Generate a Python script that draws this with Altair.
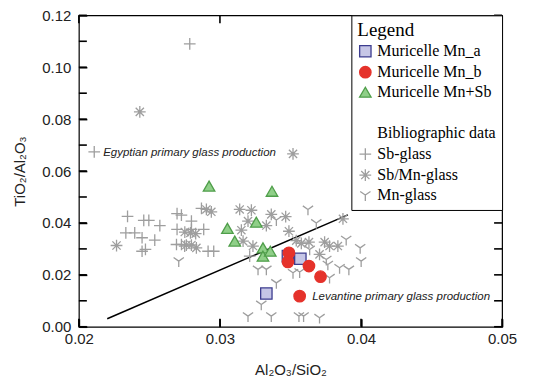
import altair as alt
import pandas as pd

# ---------------- data ----------------
sb_x = [0.02786, 0.02109, 0.02345, 0.02333, 0.02396, 0.02448, 0.02460, 0.02496, 0.02574,
        0.02538, 0.02448, 0.02472, 0.02696, 0.02727, 0.02696, 0.02692, 0.02727, 0.02798,
        0.02798, 0.02885, 0.02869, 0.02916, 0.02956, 0.03211, 0.02750]
sb_y = [0.1090, 0.0674, 0.0425, 0.0362, 0.0362, 0.0343, 0.0410, 0.0410, 0.0390,
        0.0334, 0.0291, 0.0298, 0.0436, 0.0430, 0.0375, 0.0317, 0.0317, 0.0407,
        0.0375, 0.0375, 0.0456, 0.0291, 0.0291, 0.0272, 0.0311]

sbmn_x = [0.02432, 0.03518, 0.02267, 0.02751, 0.02791, 0.02828, 0.02762, 0.02798, 0.02833,
          0.02904, 0.02939, 0.03140, 0.03223, 0.03199, 0.03152, 0.03164, 0.03234, 0.03329,
          0.03364, 0.03466, 0.03489, 0.03541, 0.03577, 0.03631, 0.03706, 0.03742, 0.03777,
          0.03836, 0.03872]
sbmn_y = [0.0828, 0.0666, 0.0313, 0.0365, 0.0362, 0.0359, 0.0315, 0.0315, 0.0304,
          0.0452, 0.0443, 0.0452, 0.0449, 0.0407, 0.0372, 0.0330, 0.0311, 0.0390,
          0.0433, 0.0424, 0.0368, 0.0332, 0.0321, 0.0326, 0.0279, 0.0326, 0.0311,
          0.0311, 0.0416]

mn_x = [0.02708, 0.03400, 0.03624, 0.03683, 0.03895, 0.03994, 0.04001, 0.03754, 0.03765,
        0.03777, 0.03848, 0.03914, 0.03270, 0.03329, 0.03400, 0.03518, 0.03565, 0.03293,
        0.03199, 0.03364, 0.03560, 0.03593, 0.03706, 0.03636]
mn_y = [0.0253, 0.0411, 0.0452, 0.0400, 0.0336, 0.0304, 0.0253, 0.0259, 0.0240,
        0.0189, 0.0227, 0.0221, 0.0221, 0.0221, 0.0169, 0.0208, 0.0211, 0.0086,
        0.0041, 0.0041, 0.0041, 0.0041, 0.0035, 0.0298]

mna_x = [0.03482, 0.03570, 0.03329]
mna_y = [0.0272, 0.0262, 0.0128]

mnb_x = [0.03489, 0.03482, 0.03631, 0.03713, 0.03565]
mnb_y = [0.0285, 0.0250, 0.0234, 0.0193, 0.0118]

mnsb_x = [0.02923, 0.03369, 0.03258, 0.03053, 0.03105, 0.03305, 0.03305, 0.03357]
mnsb_y = [0.0542, 0.0522, 0.0403, 0.0379, 0.0330, 0.0304, 0.0272, 0.0291]

line_x = [0.02201, 0.03907]
line_y = [0.0031, 0.0431]

note_text = ["Egyptian primary glass production", "Levantine primary glass production"]
note_x = [0.02172, 0.03654]
note_y = [0.0670, 0.01155]

x_ticks = [0.02, 0.03, 0.04, 0.05]
y_labels = [0.00, 0.02, 0.04, 0.06, 0.08, 0.10, 0.12]
y_ticks = [0.00, 0.01, 0.02, 0.03, 0.04, 0.05, 0.06, 0.07, 0.08, 0.09, 0.10, 0.11, 0.12]

groups = ["Muricelle Mn_a", "Muricelle Mn_b", "Muricelle Mn+Sb", " ",
          "Bibliographic data", "Sb-glass", "Sb/Mn-glass", "Mn-glass"]

# ---------------- styling ----------------
plus_path = "M-1,0L1,0M0,-1L0,1"
star_path = "M-1,0L1,0M0,-1L0,1M-0.7,-0.7L0.7,0.7M-0.7,0.7L0.7,-0.7"
ypath = "M0,0L0,1M0,0L-0.87,-0.6M0,0L0.87,-0.6"
gray = "#9e9e9e"
SERIF = "'Liberation Serif', 'Times New Roman', serif"
SANS = "'Liberation Sans', Arial, sans-serif"

shape_range = ["square", "circle", "triangle-up", "circle", "circle", plus_path, star_path, ypath]
fill_range = ["#c6c6e6", "#e5322b", "#8fcf88", "transparent", "transparent",
              "transparent", "transparent", "transparent"]
stroke_range = ["#3d3d8f", "#e5322b", "#4f9e4a", "transparent", "transparent", gray, gray, gray]
size_range = [130, 140, 160, 10, 10, 110, 100, 90]

W, H = 424, 312
TL = 8  # inward tick length in px

frames = []
for name, xs, ys in [("Sb-glass", sb_x, sb_y), ("Sb/Mn-glass", sbmn_x, sbmn_y),
                     ("Mn-glass", mn_x, mn_y), ("Muricelle Mn+Sb", mnsb_x, mnsb_y),
                     ("Muricelle Mn_a", mna_x, mna_y), ("Muricelle Mn_b", mnb_x, mnb_y)]:
    frames.append(pd.DataFrame({"x": xs, "y": ys, "group": name}))
pts = pd.concat(frames, ignore_index=True)
pts["order"] = range(len(pts))

xscale = alt.Scale(domain=[0.02, 0.05], nice=False, zero=False)
yscale = alt.Scale(domain=[0.0, 0.12], nice=False, zero=False)

legend = alt.Legend(
    title="Legend", orient="top-right", offset=0,
    titleFont=SERIF, titleFontSize=19, titleFontWeight="normal", titleColor="black",
    labelFont=SERIF, labelFontSize=16, labelColor="black", labelLimit=250,
    strokeColor="black", fillColor="white", padding=6, rowPadding=3,
    symbolStrokeWidth=1.3, titlePadding=3,
)

# bottom/left axes carry labels and inward ticks (axis shifted inside by the tick length)
axis_ticks = dict(ticks=True, tickSize=TL, tickWidth=1.6, tickColor="black",
                  offset=-TL, domain=False, grid=False, labelFlush=False)

points = alt.Chart(pts).mark_point(opacity=1, strokeWidth=1.3).encode(
    x=alt.X("x:Q", scale=xscale,
            axis=alt.Axis(values=x_ticks, format=".2f", title="Al₂O₃/SiO₂",
                          labelPadding=5, titlePadding=16, **axis_ticks)),
    y=alt.Y("y:Q", scale=yscale,
            axis=alt.Axis(values=y_labels, format=".2f", title="TiO₂/Al₂O₃",
                          labelPadding=8, titlePadding=14, **axis_ticks)),
    shape=alt.Shape("group:N", scale=alt.Scale(domain=groups, range=shape_range), legend=legend),
    fill=alt.Fill("group:N", scale=alt.Scale(domain=groups, range=fill_range), legend=legend),
    stroke=alt.Stroke("group:N", scale=alt.Scale(domain=groups, range=stroke_range), legend=legend),
    size=alt.Size("group:N", scale=alt.Scale(domain=groups, range=size_range), legend=legend),
    order=alt.Order("order:Q"),
)

line = alt.Chart(pd.DataFrame({"x": line_x, "y": line_y})).mark_line(
    color="black", strokeWidth=1.5).encode(x=alt.X("x:Q", scale=xscale), y=alt.Y("y:Q", scale=yscale))

notes = alt.Chart(pd.DataFrame({"x": note_x, "y": note_y, "t": note_text})).mark_text(
    align="left", baseline="middle", fontStyle="italic", font=SANS,
    fontSize=11.5, color="#222222").encode(
    x=alt.X("x:Q", scale=xscale), y=alt.Y("y:Q", scale=yscale), text="t:N")

# inward ticks on all four sides of the frame (incl. 0.01 minor ticks)
ydf = pd.DataFrame({"v": y_ticks})
xdf = pd.DataFrame({"v": x_ticks})
tick_style = dict(color="black", strokeWidth=1.6)
lt = alt.Chart(ydf).mark_rule(**tick_style).encode(
    y=alt.Y("v:Q", scale=yscale), x=alt.value(0), x2=alt.value(TL))
rt = alt.Chart(ydf).mark_rule(**tick_style).encode(
    y=alt.Y("v:Q", scale=yscale), x=alt.value(W - TL), x2=alt.value(W))
bt = alt.Chart(xdf).mark_rule(**tick_style).encode(
    x=alt.X("v:Q", scale=xscale), y=alt.value(H - TL), y2=alt.value(H))
tt = alt.Chart(xdf).mark_rule(**tick_style).encode(
    x=alt.X("v:Q", scale=xscale), y=alt.value(0), y2=alt.value(TL))

chart = alt.layer(line, points, notes, lt, rt, bt, tt).properties(
    width=W, height=H,
    autosize=alt.AutoSizeParams(type="none"),
    padding={"left": 71, "top": 7, "right": 40, "bottom": 50},
).configure_view(stroke="black", strokeWidth=1.2).configure_axis(
    labelFont=SANS, labelFontSize=15, labelColor="#222222",
    titleFont=SANS, titleFontSize=15, titleColor="#222222", titleFontWeight="normal",
).configure_legend(
    labelFont=SERIF, titleFont=SERIF,
)

chart.save("out.html", embed_options={"renderer": "svg", "actions": False})
